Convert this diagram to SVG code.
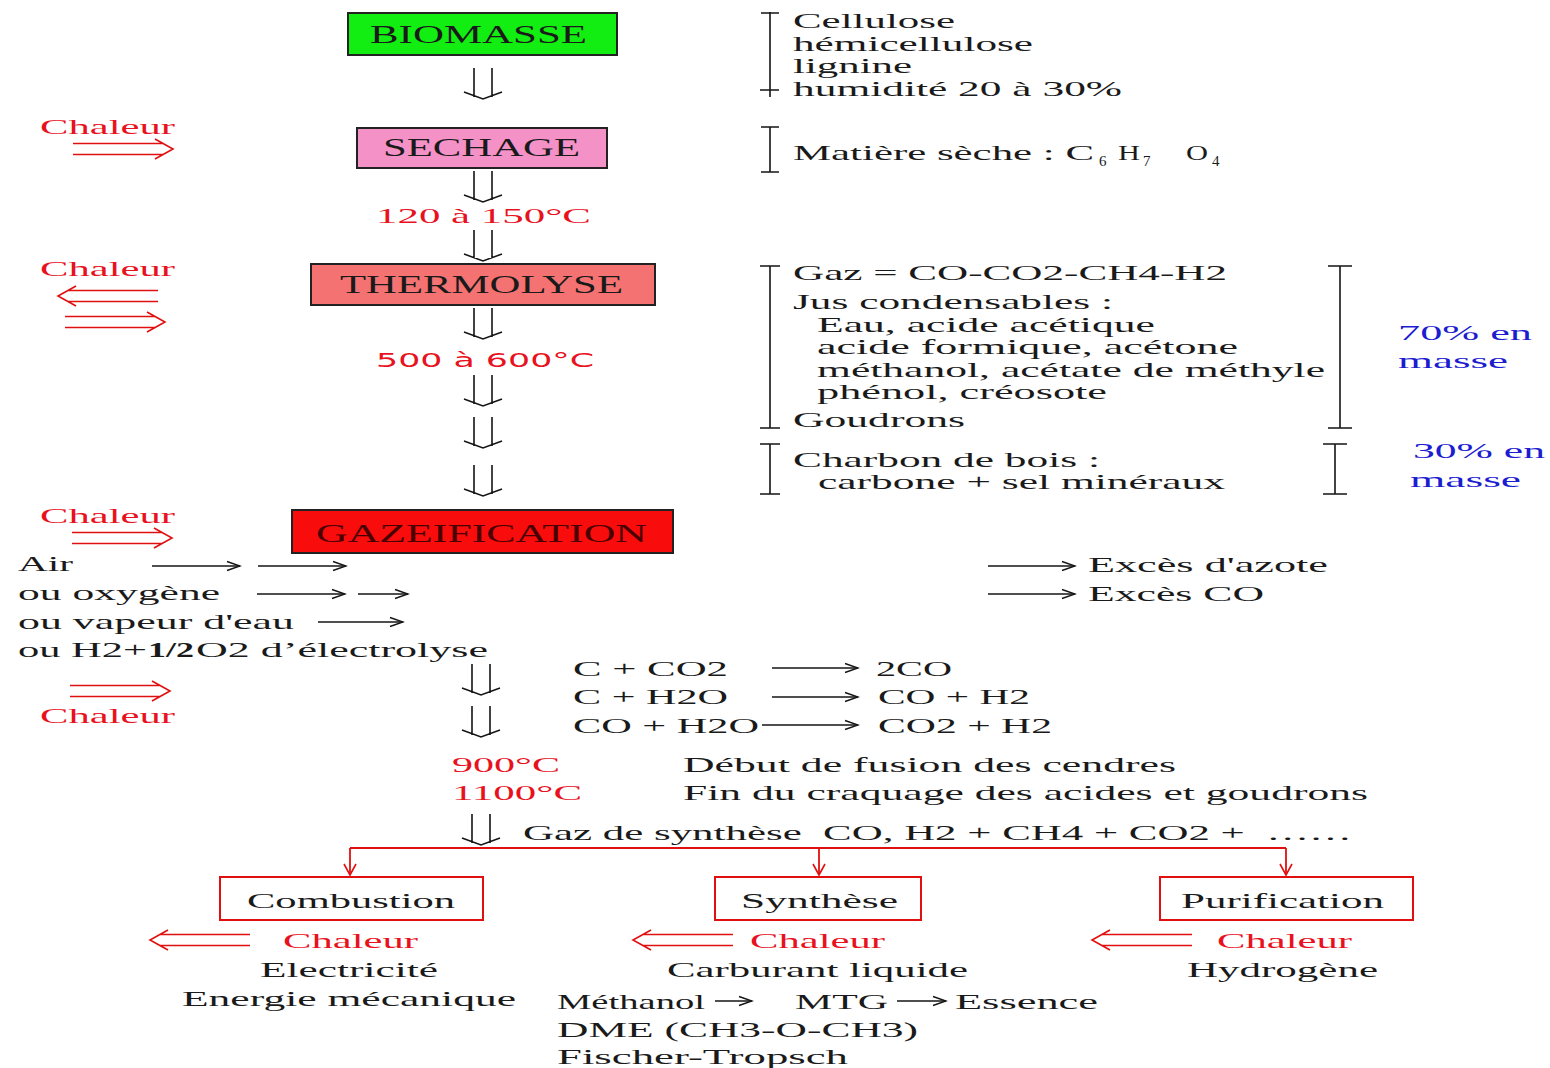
<svg xmlns="http://www.w3.org/2000/svg" xmlns:xlink="http://www.w3.org/1999/xlink" width="1550" height="1068" viewBox="0 0 1550 1068">
<style>
text{font-family:"Liberation Serif","Times New Roman",serif;font-size:22px;fill:#1a1a1a}
.bx{font-size:25px}
.r{fill:#e8121e}
.bl{fill:#1c1cd0}
.sans{font-family:"DejaVu Sans","Liberation Sans",sans-serif;font-size:20px}
.sub{font-size:15px}
.box{stroke:#222;stroke-width:2}
.rbox{fill:#fff;stroke:#e01010;stroke-width:2}
.ln{fill:none;stroke:#151515;stroke-width:1.6}
.rl{fill:none;stroke:#e01010;stroke-width:1.8}
.sa{fill:none;stroke:#151515;stroke-width:1.4;marker-end:url(#ah)}
</style>
<defs>
<path id="dd" d="M-9,0V29M9,0V29M-19,24L0,31L19,24" fill="none" stroke="#151515" stroke-width="1.6"/>
<path id="rr" d="M0,-5.5H90M0,5.5H90M82,-10L100,0L82,10" fill="none" stroke="#e01010" stroke-width="1.6"/>
<path id="rlf" d="M100,-5.5H10M100,5.5H10M18,-10L0,0L18,10" fill="none" stroke="#e01010" stroke-width="1.6"/>
<marker id="ah" markerWidth="16" markerHeight="12" refX="14" refY="6" orient="auto" markerUnits="userSpaceOnUse"><path d="M1,1.5L14,6L1,10.5" fill="none" stroke="#151515" stroke-width="1.4"/></marker>
<marker id="rh" markerWidth="14" markerHeight="14" refX="12" refY="7" orient="auto" markerUnits="userSpaceOnUse"><path d="M1,1L12,7L1,13" fill="none" stroke="#e01010" stroke-width="1.6"/></marker>
</defs>
<rect width="1550" height="1068" fill="#fff"/>

<g id="connectors">
<use href="#dd" x="483" y="68"/>
<use href="#dd" x="483" y="171"/>
<use href="#dd" x="483" y="230"/>
<use href="#dd" x="483" y="308"/>
<use href="#dd" x="483" y="375"/>
<use href="#dd" x="483" y="417"/>
<use href="#dd" x="483" y="465"/>
<use href="#dd" x="481" y="664"/>
<use href="#dd" x="481" y="706"/>
<use href="#dd" x="481" y="814"/>
<use href="#rr" x="73" y="149"/>
<use href="#rlf" x="58" y="296"/>
<use href="#rr" x="65" y="322"/>
<use href="#rr" x="72" y="538"/>
<use href="#rr" x="70" y="691"/>
<use href="#rlf" x="150" y="940"/>
<use href="#rlf" x="633" y="940"/>
<use href="#rlf" x="1092" y="940"/>
<line class="sa" x1="152" y1="566" x2="240" y2="566"/>
<line class="sa" x1="258" y1="566" x2="346" y2="566"/>
<line class="sa" x1="257" y1="594" x2="345" y2="594"/>
<line class="sa" x1="358" y1="594" x2="408" y2="594"/>
<line class="sa" x1="318" y1="622" x2="403" y2="622"/>
<line class="sa" x1="988" y1="566" x2="1075" y2="566"/>
<line class="sa" x1="988" y1="594" x2="1075" y2="594"/>
<line class="sa" x1="772" y1="668" x2="858" y2="668"/>
<line class="sa" x1="772" y1="697" x2="858" y2="697"/>
<line class="sa" x1="762" y1="725" x2="858" y2="725"/>
<line class="sa" x1="715" y1="1001" x2="752" y2="1001"/>
<line class="sa" x1="897" y1="1001" x2="946" y2="1001"/>
<path class="rl" d="M350,848H1286"/>
<path class="rl" d="M350,848V875" marker-end="url(#rh)"/>
<path class="rl" d="M819,848V875" marker-end="url(#rh)"/>
<path class="rl" d="M1286,848V875" marker-end="url(#rh)"/>
</g>

<g id="biomasse">
<rect class="box" x="348" y="13" width="269" height="42" fill="#12ee12"/>
<text class="bx" x="370" y="43" textLength="217" lengthAdjust="spacingAndGlyphs">BIOMASSE</text>
</g>
<g id="sechage">
<rect class="box" x="357" y="128" width="250" height="40" fill="#f492c8"/>
<text class="bx" x="383" y="156" textLength="197" lengthAdjust="spacingAndGlyphs">SECHAGE</text>
</g>
<g id="t120">
<text class="r" x="376" y="223" textLength="215" lengthAdjust="spacingAndGlyphs">120 à 150°C</text>
</g>
<g id="thermolyse">
<rect class="box" x="311" y="264" width="344" height="41" fill="#f57272"/>
<text class="bx" x="340" y="293" textLength="283" lengthAdjust="spacingAndGlyphs">THERMOLYSE</text>
</g>
<g id="t500">
<text class="r sans" x="376" y="367" textLength="218" lengthAdjust="spacingAndGlyphs">500 à 600°C</text>
</g>
<g id="gazeification">
<rect class="box" x="292" y="510" width="381" height="43" fill="#f80c0c"/>
<text class="bx" x="316" y="542" textLength="331" lengthAdjust="spacingAndGlyphs" style="fill:#4a0000">GAZEIFICATION</text>
</g>

<g id="chaleur-left">
<text class="r" x="40" y="134" textLength="135" lengthAdjust="spacingAndGlyphs">Chaleur</text>
<text class="r" x="40" y="276" textLength="135" lengthAdjust="spacingAndGlyphs">Chaleur</text>
<text class="r" x="40" y="523" textLength="135" lengthAdjust="spacingAndGlyphs">Chaleur</text>
<text class="r" x="40" y="723" textLength="135" lengthAdjust="spacingAndGlyphs">Chaleur</text>
</g>

<g id="bracket-biomasse">
<path class="ln" d="M770,12V97M761,13H779M760,90H779"/>
<text x="793" y="28" textLength="162" lengthAdjust="spacingAndGlyphs">Cellulose</text>
<text x="793" y="51" textLength="240" lengthAdjust="spacingAndGlyphs">hémicellulose</text>
<text x="793" y="73" textLength="119" lengthAdjust="spacingAndGlyphs">lignine</text>
<text x="793" y="96" textLength="329" lengthAdjust="spacingAndGlyphs">humidité 20 à 30%</text>
</g>
<g id="bracket-sechage">
<path class="ln" d="M770,127V172M761,127H779M761,172H779"/>
<text x="793" y="160" textLength="301" lengthAdjust="spacingAndGlyphs">Matière sèche : C</text>
<text class="sub" x="1099" y="166">6</text>
<text x="1118" y="160" textLength="22" lengthAdjust="spacingAndGlyphs">H</text>
<text class="sub" x="1143" y="166">7</text>
<text x="1186" y="160" textLength="22" lengthAdjust="spacingAndGlyphs">O</text>
<text class="sub" x="1212" y="166">4</text>
</g>
<g id="bracket-thermolyse">
<path class="ln" d="M770,266V428M760,266H780M760,428H780"/>
<path class="ln" d="M1340,266V428M1328,266H1352M1328,428H1352"/>
<text x="793" y="280" textLength="434" lengthAdjust="spacingAndGlyphs">Gaz = CO-CO2-CH4-H2</text>
<text x="793" y="309" textLength="320" lengthAdjust="spacingAndGlyphs">Jus condensables :</text>
<text x="817" y="332" textLength="338" lengthAdjust="spacingAndGlyphs">Eau, acide acétique</text>
<text x="817" y="354" textLength="421" lengthAdjust="spacingAndGlyphs">acide formique, acétone</text>
<text x="817" y="377" textLength="508" lengthAdjust="spacingAndGlyphs">méthanol, acétate de méthyle</text>
<text x="817" y="399" textLength="290" lengthAdjust="spacingAndGlyphs">phénol, créosote</text>
<text x="793" y="427" textLength="172" lengthAdjust="spacingAndGlyphs">Goudrons</text>
<text class="bl" x="1398" y="340" textLength="134" lengthAdjust="spacingAndGlyphs">70% en</text>
<text class="bl" x="1398" y="368" textLength="110" lengthAdjust="spacingAndGlyphs">masse</text>
</g>
<g id="bracket-charbon">
<path class="ln" d="M770,444V494M760,444H780M760,494H780"/>
<path class="ln" d="M1335,444V494M1323,444H1347M1323,494H1347"/>
<text x="793" y="467" textLength="307" lengthAdjust="spacingAndGlyphs">Charbon de bois :</text>
<text x="818" y="489" textLength="407" lengthAdjust="spacingAndGlyphs">carbone + sel minéraux</text>
<text class="bl" x="1413" y="458" textLength="132" lengthAdjust="spacingAndGlyphs">30% en</text>
<text class="bl" x="1410" y="487" textLength="111" lengthAdjust="spacingAndGlyphs">masse</text>
</g>

<g id="agents">
<text x="18" y="571" textLength="55" lengthAdjust="spacingAndGlyphs">Air</text>
<text x="18" y="600" textLength="202" lengthAdjust="spacingAndGlyphs">ou oxygène</text>
<text x="18" y="629" textLength="276" lengthAdjust="spacingAndGlyphs">ou vapeur d'eau</text>
<text x="18" y="657" textLength="129" lengthAdjust="spacingAndGlyphs">ou H2+</text>
<text x="148" y="657" textLength="46" lengthAdjust="spacingAndGlyphs" font-weight="bold">1/2</text>
<text x="196" y="657" textLength="292" lengthAdjust="spacingAndGlyphs">O2 d’électrolyse</text>
</g>
<g id="exces">
<text x="1088" y="572" textLength="240" lengthAdjust="spacingAndGlyphs">Excès d'azote</text>
<text x="1088" y="601" textLength="176" lengthAdjust="spacingAndGlyphs">Excès CO</text>
</g>
<g id="reactions">
<text x="573" y="676" textLength="155" lengthAdjust="spacingAndGlyphs">C + CO2</text>
<text x="876" y="676" textLength="76" lengthAdjust="spacingAndGlyphs">2CO</text>
<text x="573" y="704" textLength="155" lengthAdjust="spacingAndGlyphs">C + H2O</text>
<text x="878" y="704" textLength="152" lengthAdjust="spacingAndGlyphs">CO + H2</text>
<text x="573" y="733" textLength="186" lengthAdjust="spacingAndGlyphs">CO + H2O</text>
<text x="878" y="733" textLength="174" lengthAdjust="spacingAndGlyphs">CO2 + H2</text>
</g>
<g id="temperatures">
<text class="r" x="452" y="772" textLength="108" lengthAdjust="spacingAndGlyphs">900°C</text>
<text class="r" x="452" y="800" textLength="130" lengthAdjust="spacingAndGlyphs">1100°C</text>
<text x="683" y="772" textLength="493" lengthAdjust="spacingAndGlyphs">Début de fusion des cendres</text>
<text x="683" y="800" textLength="685" lengthAdjust="spacingAndGlyphs">Fin du craquage des acides et goudrons</text>
</g>
<g id="gaz-synthese">
<text x="523" y="840" textLength="829" lengthAdjust="spacingAndGlyphs" xml:space="preserve">Gaz de synthèse  CO, H2 + CH4 + CO2 +  ……</text>
</g>

<g id="combustion">
<rect class="rbox" x="220" y="877" width="263" height="43"/>
<text x="247" y="908" textLength="208" lengthAdjust="spacingAndGlyphs">Combustion</text>
<text class="r" x="283" y="948" textLength="135" lengthAdjust="spacingAndGlyphs">Chaleur</text>
<text x="260" y="977" textLength="178" lengthAdjust="spacingAndGlyphs">Electricité</text>
<text x="182" y="1006" textLength="334" lengthAdjust="spacingAndGlyphs">Energie mécanique</text>
</g>
<g id="synthese">
<rect class="rbox" x="715" y="877" width="206" height="43"/>
<text x="741" y="908" textLength="157" lengthAdjust="spacingAndGlyphs">Synthèse</text>
<text class="r" x="750" y="948" textLength="135" lengthAdjust="spacingAndGlyphs">Chaleur</text>
<text x="667" y="977" textLength="301" lengthAdjust="spacingAndGlyphs">Carburant liquide</text>
<text x="557" y="1009" textLength="148" lengthAdjust="spacingAndGlyphs">Méthanol</text>
<text x="795" y="1009" textLength="93" lengthAdjust="spacingAndGlyphs">MTG</text>
<text x="955" y="1009" textLength="143" lengthAdjust="spacingAndGlyphs">Essence</text>
<text x="557" y="1037" textLength="361" lengthAdjust="spacingAndGlyphs">DME (CH3-O-CH3)</text>
<text x="557" y="1064" textLength="291" lengthAdjust="spacingAndGlyphs">Fischer-Tropsch</text>
</g>
<g id="purification">
<rect class="rbox" x="1160" y="877" width="253" height="43"/>
<text x="1181" y="908" textLength="203" lengthAdjust="spacingAndGlyphs">Purification</text>
<text class="r" x="1217" y="948" textLength="135" lengthAdjust="spacingAndGlyphs">Chaleur</text>
<text x="1187" y="977" textLength="191" lengthAdjust="spacingAndGlyphs">Hydrogène</text>
</g>
</svg>
